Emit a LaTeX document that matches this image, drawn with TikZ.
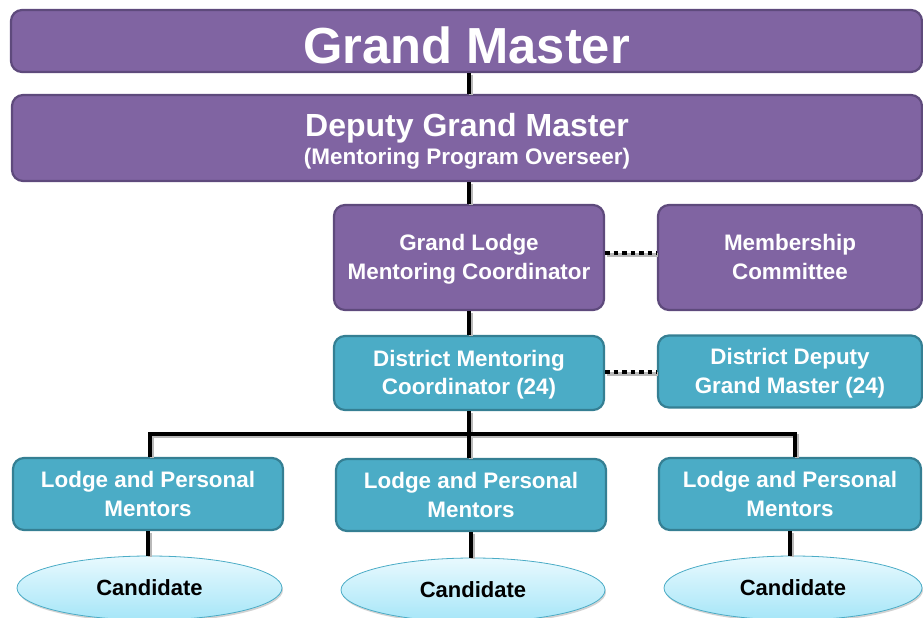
\documentclass[tikz,border=0pt]{standalone}
\usepackage{fontspec}
\setmainfont{Liberation Sans}
\usetikzlibrary{shapes.geometric,shadows}

\definecolor{purplefill}{HTML}{8064A2}
\definecolor{purpleline}{HTML}{5E4A7C}
\definecolor{tealfill}{HTML}{4BACC6}
\definecolor{tealline}{HTML}{357F93}
\definecolor{candtop}{HTML}{E8F9FE}
\definecolor{candbottom}{HTML}{A6E6F8}

% lowers a node's text by #1 without moving the node
\newcommand{\lowertext}[2]{\raisebox{0pt}[\dimexpr\height+2\dimexpr#1\relax\relax][\depth]{#2}}

\tikzset{
    purplebox/.style={draw=purpleline, line width=2.2pt, fill=purplefill, rounded corners=11pt,
        text=white, font=\bfseries\fontsize{22.4}{28.5}\selectfont, align=center, inner sep=0pt},
    tealbox/.style={draw=tealline, line width=2.2pt, fill=tealfill, rounded corners=11pt,
        text=white, font=\bfseries\fontsize{22.4}{28.5}\selectfont, align=center, inner sep=0pt},
    candidate/.style={ellipse, draw=tealfill, line width=0.8pt, top color=candtop, bottom color=candbottom,
        drop shadow={shadow xshift=1pt, shadow yshift=-2pt, fill=gray!70},
        font=\bfseries\fontsize{22}{26}\selectfont, inner sep=0pt},
    conn/.style={line width=4pt, black,
        preaction={draw=gray!55, line width=4pt, transform canvas={shift={(1.5pt,-1.5pt)}}}},
    dotconn/.style={conn, line width=4.5pt, dash pattern=on 4.5pt off 4pt}
}

\begin{document}
\begin{tikzpicture}[x=1pt, y=-1pt]
        \useasboundingbox (0,0) rectangle (923,618);

        % Top of the program
        \node[purplebox, minimum width=911, minimum height=62] (gm) at (466.5,41)
            {\fontsize{50.7}{56}\selectfont\lowertext{4pt}{Grand Master}};
        \node[purplebox, minimum width=910, minimum height=86] (dgm) at (467,138)
            {\lowertext{5pt}{\begin{tabular}{@{}c@{}}
             \fontsize{32}{34}\selectfont Deputy Grand Master\\[-1pt]
             \fontsize{22.5}{26}\selectfont (Mentoring Program Overseer)\end{tabular}}};

        % Grand Lodge level
        \node[purplebox, minimum width=270, minimum height=105] (glmc) at (469,257.5)
            {\lowertext{2pt}{\begin{tabular}{@{}c@{}}Grand Lodge\\Mentoring Coordinator\end{tabular}}};
        \node[purplebox, minimum width=264, minimum height=105] (mc) at (790,257.5)
            {\lowertext{2pt}{\begin{tabular}{@{}c@{}}Membership\\Committee\end{tabular}}};

        % District level
        \node[tealbox, minimum width=270, minimum height=74] (dmc) at (469,373)
            {\lowertext{2pt}{\begin{tabular}{@{}c@{}}District Mentoring\\Coordinator (24)\end{tabular}}};
        \node[tealbox, minimum width=264, minimum height=72] (ddgm) at (790,371.5)
            {\lowertext{2pt}{\begin{tabular}{@{}c@{}}District Deputy\\Grand Master (24)\end{tabular}}};

        % Lodge level
        \node[tealbox, minimum width=270, minimum height=72] (lpm1) at (148,494) {Lodge and Personal\\Mentors};
        \node[tealbox, minimum width=270, minimum height=72] (lpm2) at (471,495) {Lodge and Personal\\Mentors};
        \node[tealbox, minimum width=262, minimum height=72] (lpm3) at (790,494) {Lodge and Personal\\Mentors};

        \node[candidate, minimum width=265, minimum height=64] (cand1) at (149.5,588) {Candidate};
        \node[candidate, minimum width=264, minimum height=64] (cand2) at (473,590) {Candidate};
        \node[candidate, minimum width=258, minimum height=64] (cand3) at (793,588) {Candidate};

        % Reporting lines
        \coordinate (bus) at (469,434);
        \draw[conn] (gm.south -| glmc) -- (dgm.north -| glmc);
        \draw[conn] (dgm.south -| glmc) -- (glmc.north);
        \draw[conn] (glmc.south) -- (dmc.north);
        \draw[conn] (dmc.south) -- (bus);
        \draw[conn] (lpm1.north -| 150,0) |- (bus) -| (lpm3.north -| 795,0);
        \draw[conn] (bus) -- (bus |- lpm2.north);
        \draw[conn] (lpm1.south) -- (lpm1.south |- cand1.north);
        \draw[conn] (lpm2.south) -- (lpm2.south |- cand2.north);
        \draw[conn] (lpm3.south) -- (lpm3.south |- cand3.north);

        % Advisory links
        \draw[dotconn] ([yshift=4.5]glmc.east) -- ([yshift=4.5]glmc.east -| mc.west);
        \draw[dotconn] ([yshift=1]dmc.east) -- ([yshift=1]dmc.east -| ddgm.west);
    \end{tikzpicture}
\end{document}
